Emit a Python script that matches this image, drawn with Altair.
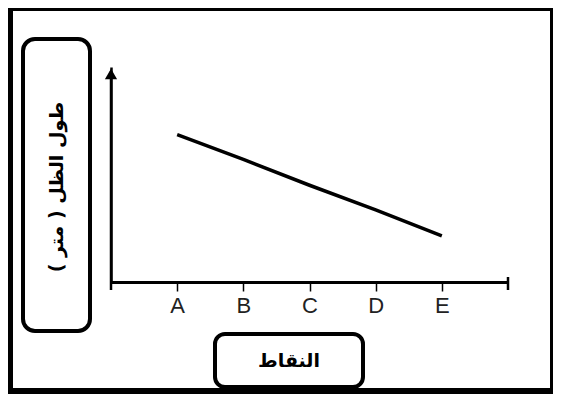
import altair as alt
import pandas as pd

# ---- data ----
points = ["A", "B", "C", "D", "E"]
shadow_length = [6.85, 5.7, 4.5, 3.35, 2.15]
y_title = "طول الظل ( متر )"
x_title = "النقاط"

df = pd.DataFrame({"point": points, "length": shadow_length})
one = alt.Data(values=[{"k": 1}])

W, H = 397, 215
x_scale = alt.Scale(domain=points, type="point", padding=1)
y_scale = alt.Scale(domain=[0, 10])

line = alt.Chart(df).mark_line(color="black", strokeWidth=3.5).encode(
    x=alt.X("point:N", scale=x_scale, sort=points,
            axis=alt.Axis(title=None, domainColor="black", domainWidth=3,
                          tickColor="black", tickWidth=1.5, tickSize=9,
                          labelFont="Liberation Sans Narrow, Liberation Sans",
                          labelFontSize=22,
                          labelColor="#222", labelPadding=4, labelAngle=0,
                          grid=False)),
    y=alt.Y("length:Q", scale=y_scale,
            axis=alt.Axis(title=None, labels=False, ticks=False, grid=False,
                          domainColor="black", domainWidth=2.5)),
)

def band(x, x2, y, y2):
    return alt.Chart(one).mark_rect(color="black").encode(
        x=alt.value(x), x2=alt.value(x2), y=alt.value(y), y2=alt.value(y2))

frame = (band(-103, -98, -59, 327) + band(-103, 442, -59, -56)
         + band(-103, 442, 321, 327) + band(439, 442, -59, 327))

left_box = alt.Chart(one).mark_rect(fill="white", stroke="black", strokeWidth=4,
                                    cornerRadius=12).encode(
    x=alt.value(-88), x2=alt.value(-21), y=alt.value(-28), y2=alt.value(264))
bottom_box = alt.Chart(one).mark_rect(fill="white", stroke="black", strokeWidth=4,
                                      cornerRadius=10).encode(
    x=alt.value(104), x2=alt.value(252), y=alt.value(267), y2=alt.value(320))

left_text = alt.Chart(one).mark_text(text=y_title, angle=270, font="DejaVu Sans",
                                     fontWeight="bold", fontSize=19, color="black",
                                     align="center", baseline="middle").encode(
    x=alt.value(-54), y=alt.value(120))
bottom_text = alt.Chart(one).mark_text(text=x_title, font="DejaVu Sans",
                                       fontWeight="bold", fontSize=19, color="black",
                                       align="center", baseline="middle").encode(
    x=alt.value(178), y=alt.value(294))

y_ext = alt.Chart(one).mark_rule(color="black", strokeWidth=2.5).encode(
    x=alt.value(0), y=alt.value(4), y2=alt.value(223))
x_cap = alt.Chart(one).mark_rule(color="black", strokeWidth=2.5).encode(
    x=alt.value(397), y=alt.value(210), y2=alt.value(223))
arrow = alt.Chart(one).mark_point(shape="triangle-up", filled=True, color="black",
                                  size=150, opacity=1).encode(
    x=alt.value(0), y=alt.value(7))

chart = alt.layer(frame, left_box, bottom_box, left_text, bottom_text,
                  y_ext, x_cap, line, arrow).properties(
    width=W, height=H,
    padding={"left": 103, "top": 59, "right": 45, "bottom": 112},
    autosize=alt.AutoSizeParams(type="none"),
    background="white",
).configure_view(stroke=None)

chart.save("out.html", embed_options={"renderer": "svg", "actions": False})
